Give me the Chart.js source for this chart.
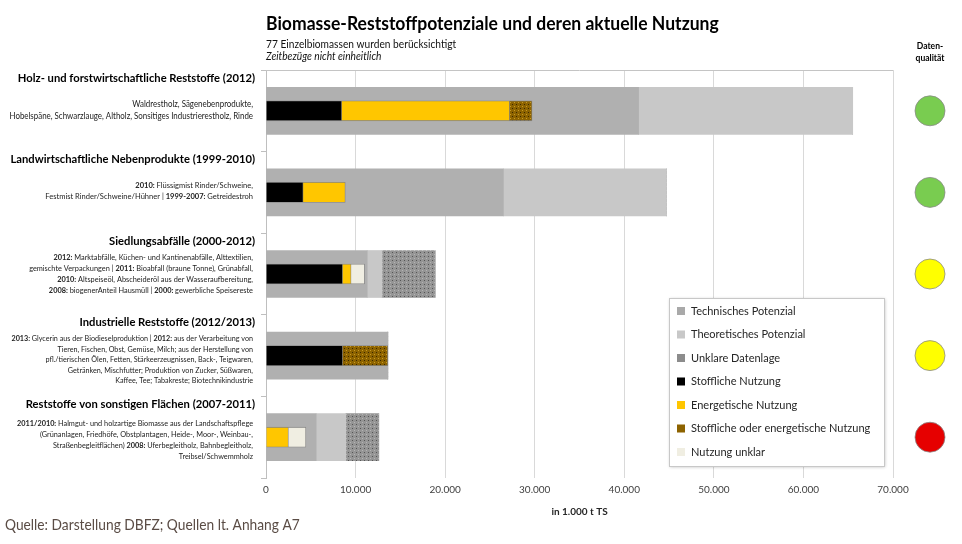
<!DOCTYPE html>
<html>
<head>
<meta charset="utf-8">
<script src="https://cdn.jsdelivr.net/npm/chart.js@4"></script>
<style>
  html, body { margin: 0; padding: 0; background: #fff; }
  #wrap { position: relative; width: 962px; height: 544px; }
</style>
</head>
<body>
<div id="wrap"><canvas id="c"></canvas></div>
<script>
// ---------------- data (in 1.000 t TS) ----------------
const categories = [
  "Holz- und forstwirtschaftliche Reststoffe (2012)",
  "Landwirtschaftliche Nebenprodukte (1999-2010)",
  "Siedlungsabfälle (2000-2012)",
  "Industrielle Reststoffe (2012/2013)",
  "Reststoffe von sonstigen Flächen (2007-2011)",
];
// notes below each heading: lines of [text, bold]
const notes = [
  [
    [["Waldrestholz, Sägenebenprodukte,", 0]],
    [["Hobelspäne, Schwarzlauge, Altholz, Sonsitiges Industrierestholz, Rinde", 0]],
  ],
  [
    [["2010: ", 1], ["Flüssigmist Rinder/Schweine,", 0]],
    [["Festmist Rinder/Schweine/Hühner | ", 0], ["1999-2007: ", 1], ["Getreidestroh", 0]],
  ],
  [
    [["2012: ", 1], ["Marktabfälle, Küchen- und Kantinenabfälle, Alttextilien,", 0]],
    [["gemischte Verpackungen | ", 0], ["2011: ", 1], ["Bioabfall (braune Tonne), Grünabfall,", 0]],
    [["2010: ", 1], ["Altspeiseöl, Abscheideröl aus der Wasseraufbereitung,", 0]],
    [["2008: ", 1], ["biogenerAnteil Hausmüll | ", 0], ["2000: ", 1], ["gewerbliche Speisereste", 0]],
  ],
  [
    [["2013: ", 1], ["Glycerin aus der Biodieselproduktion | ", 0], ["2012: ", 1], ["aus der Verarbeitung von", 0]],
    [["Tieren, Fischen, Obst, Gemüse, Milch; aus der Herstellung von", 0]],
    [["pfl./tierischen Ölen, Fetten, Stärkeerzeugnissen, Back-, Teigwaren,", 0]],
    [["Getränken, Mischfutter; Produktion von Zucker, Süßwaren,", 0]],
    [["Kaffee, Tee; Tabakreste; Biotechnikindustrie", 0]],
  ],
  [
    [["2011/2010: ", 1], ["Halmgut- und holzartige Biomasse aus der Landschaftspflege", 0]],
    [["(Grünanlagen, Friedhöfe, Obstplantagen, Heide-, Moor-, Weinbau-,", 0]],
    [["Straßenbegleitflächen) ", 0], ["2008: ", 1], ["Uferbegleitholz, Bahnbegleitholz,", 0]],
    [["Treibsel/Schwemmholz", 0]],
  ],
];

const technisch = [41600, 26500, 11300, 13600, 5600];
const theoretisch = [65500, 44700, 12950, 13600, 8900];
const unklareDatenlage = [0, 0, 5950, 0, 3700];

const stofflich = [8450, 4150, 8550, 8550, 0];
const energetisch = [18750, 4700, 950, 0, 2500];
const stofflichOderEnergetisch = [2500, 0, 0, 5050, 0];
const nutzungUnklar = [0, 0, 1500, 0, 1950];

const datenqualitaet = ["#79cc50", "#79cc50", "#ffff00", "#ffff00", "#e60000"];

const xMax = 70000;
const xStep = 10000;

// ---------------- helpers ----------------
const FONT = "Lato, 'Open Sans', sans-serif";
const canvas = document.getElementById("c");
const mainCtx = canvas.getContext("2d");

function dotPattern(base, dark, light) {
  const t = document.createElement("canvas");
  t.width = t.height = 4;
  const g = t.getContext("2d");
  g.fillStyle = base;
  g.fillRect(0, 0, 4, 4);
  g.fillStyle = dark;
  g.fillRect(0, 0, 1, 1);
  g.fillStyle = light;
  g.fillRect(2, 2, 1, 1);
  return mainCtx.createPattern(t, "repeat");
}

function fmt(v) {
  return String(v).replace(/\B(?=(\d{3})+(?!\d))/g, ".");
}

function drawRich(ctx, runs, xRight, y, size, sx) {
  let w = 0;
  for (const [t, b] of runs) {
    ctx.font = (b ? "bold " : "") + size + "px " + FONT;
    w += ctx.measureText(t).width;
  }
  ctx.save();
  ctx.translate(xRight, y);
  ctx.scale(sx, 1);
  ctx.textAlign = "left";
  ctx.textBaseline = "middle";
  let x = -w;
  for (const [t, b] of runs) {
    ctx.font = (b ? "bold " : "") + size + "px " + FONT;
    ctx.fillText(t, x, 0);
    x += ctx.measureText(t).width;
  }
  ctx.restore();
}

function drawText(ctx, text, x, y, font, sx, align) {
  ctx.save();
  ctx.translate(x, y);
  ctx.scale(sx, 1);
  ctx.font = font;
  ctx.textAlign = align || "left";
  ctx.textBaseline = "middle";
  ctx.fillText(text, 0, 0);
  ctx.restore();
}

const legendSwatch = ["#a9a9a9", "#c8c8c8", "#8c8c8c", "#000000", "#ffc600", "#8d6300", "#f0eee2"];
const noteOffset = [-1, -2, 0, 4, 3];
const noteSize = [8.8, 8.4, 8.2, 8.0, 8.15];
const noteLine = [12, 11, 11, 10.5, 11];

// ---------------- extra drawing ----------------
const extras = {
  id: "extras",
  beforeDatasetsDraw(chart) {
    const { ctx, chartArea: a } = chart;
    ctx.save();
    ctx.strokeStyle = "#c4c4c4";
    ctx.lineWidth = 1;
    ctx.beginPath();
    ctx.moveTo(a.left, a.top + 0.5);
    ctx.lineTo(a.right, a.top + 0.5);
    ctx.stroke();
    ctx.restore();
  },
  afterDraw(chart) {
    const { ctx, scales } = chart;
    const y = scales.y;
    ctx.save();

    // title block
    ctx.fillStyle = "#000";
    drawText(ctx, "Biomasse-Reststoffpotenziale und deren aktuelle Nutzung", 266, 24, "bold 18px " + FONT, 0.975);
    ctx.fillStyle = "#111";
    drawText(ctx, "77 Einzelbiomassen wurden berücksichtigt", 266, 45, "10.5px " + FONT, 0.97);
    drawText(ctx, "Zeitbezüge nicht einheitlich", 266, 57, "italic 10.5px " + FONT, 0.97);

    // category headings and notes
    categories.forEach((cat, i) => {
      const c = y.getPixelForValue(i);
      ctx.fillStyle = "#000";
      drawRich(ctx, [[cat, 1]], 255, c - 33, 11.5, 0.975);
      const lines = notes[i];
      const lh = noteLine[i];
      const y0 = c + noteOffset[i] - (lines.length - 1) * lh / 2;
      ctx.fillStyle = "#222";
      lines.forEach((runs, k) => drawRich(ctx, runs, 253, y0 + k * lh, noteSize[i], 0.9));
    });

    // data quality
    ctx.fillStyle = "#000";
    drawText(ctx, "Daten-", 930, 46, "bold 9px " + FONT, 0.95, "center");
    drawText(ctx, "qualität", 930, 58, "bold 9px " + FONT, 0.95, "center");
    datenqualitaet.forEach((col, i) => {
      const c = y.getPixelForValue(i);
      ctx.beginPath();
      ctx.arc(930, c, 15, 0, Math.PI * 2);
      ctx.fillStyle = col;
      ctx.fill();
      ctx.strokeStyle = "#8a8a8a";
      ctx.lineWidth = 0.8;
      ctx.stroke();
    });

    // legend box
    const lx = 669, ly = 298, lw = 215, lhgt = 168;
    ctx.shadowColor = "rgba(0,0,0,0.25)";
    ctx.shadowBlur = 3;
    ctx.shadowOffsetX = 1;
    ctx.shadowOffsetY = 1;
    ctx.fillStyle = "#fff";
    ctx.fillRect(lx, ly, lw, lhgt);
    ctx.shadowColor = "transparent";
    ctx.strokeStyle = "#c8c8c8";
    ctx.lineWidth = 1;
    ctx.strokeRect(lx + 0.5, ly + 0.5, lw, lhgt);
    chart.data.datasets.forEach((ds, i) => {
      const yy = 311 + i * 23.5;
      ctx.fillStyle = legendSwatch[i];
      ctx.fillRect(677, yy - 4, 8, 8);
      ctx.fillStyle = "#262626";
      drawText(ctx, ds.label, 691, yy, "11px " + FONT, 1.0);
    });

    // source line
    ctx.fillStyle = "#5a4c45";
    drawText(ctx, "Quelle: Darstellung DBFZ; Quellen lt. Anhang A7", 5, 525, "16px " + FONT, 0.86);
    ctx.restore();
  },
};

// ---------------- chart ----------------
const outer = { stack: "pot", barThickness: 47, grouped: false, order: 2, borderWidth: 0 };
const inner = { stack: "use", barThickness: 20, grouped: false, order: 1, borderWidth: 0.8, borderColor: "rgba(0,0,0,0.25)" };

new Chart(canvas, {
  type: "bar",
  data: {
    labels: categories,
    datasets: [
      { ...outer, label: "Technisches Potenzial", data: technisch, backgroundColor: "#b0b0b0" },
      { ...outer, label: "Theoretisches Potenzial", data: theoretisch.map((v, i) => v - technisch[i]), backgroundColor: "#c8c8c8" },
      { ...outer, label: "Unklare Datenlage", data: unklareDatenlage, backgroundColor: dotPattern("#959595", "#555555", "#b4b4b4") },
      { ...inner, label: "Stoffliche Nutzung", data: stofflich, backgroundColor: "#000000" },
      { ...inner, label: "Energetische Nutzung", data: energetisch, backgroundColor: "#ffc600" },
      { ...inner, label: "Stoffliche oder energetische Nutzung", data: stofflichOderEnergetisch, backgroundColor: dotPattern("#8d6300", "#3a2800", "#c99a20") },
      { ...inner, label: "Nutzung unklar", data: nutzungUnklar, backgroundColor: "#f0eee2" },
    ],
  },
  options: {
    indexAxis: "y",
    responsive: true,
    maintainAspectRatio: false,
    animation: false,
    layout: { padding: { top: 70, right: 69, bottom: 26, left: 0 } },
    plugins: {
      legend: { display: false },
      tooltip: { enabled: false },
    },
    scales: {
      x: {
        stacked: true,
        min: 0,
        max: xMax,
        ticks: {
          stepSize: xStep,
          padding: 6,
          color: "#404040",
          font: { family: FONT, size: 10 },
          callback: (v) => fmt(v),
        },
        grid: { color: "#d9d9d9", drawTicks: false },
        border: { display: false },
        title: {
          display: true,
          text: "in 1.000 t TS",
          color: "#262626",
          font: { family: FONT, size: 10, weight: "bold" },
          padding: { top: 6, bottom: 0 },
        },
        afterFit: (s) => { s.height = 40; },
      },
      y: {
        stacked: true,
        offset: true,
        ticks: { display: false },
        grid: { drawOnChartArea: false, offset: true, tickLength: 5, color: "#bfbfbf" },
        border: { color: "#bfbfbf" },
        afterFit: (s) => { s.width = 266; },
      },
    },
  },
  plugins: [extras],
});
</script>
</body>
</html>
